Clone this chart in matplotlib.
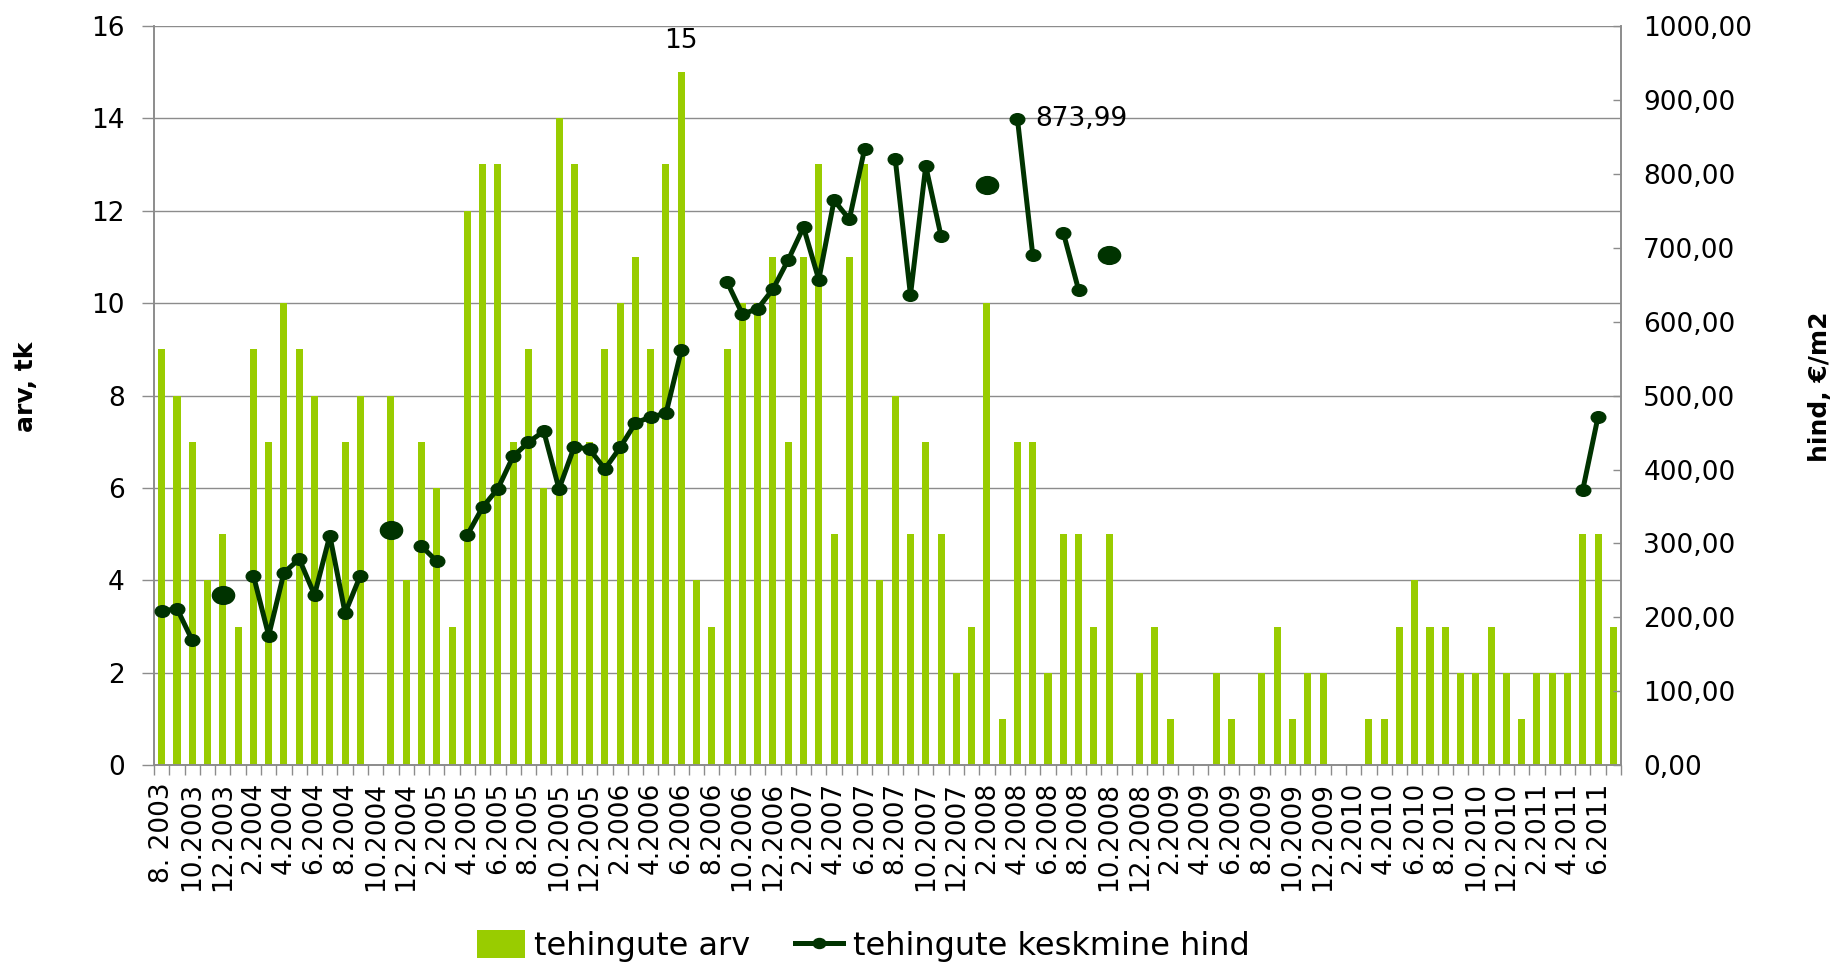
"""Tehingute arv ja keskmine hind kuude kaupa, 8.2003-7.2011."""
import numpy as np
import matplotlib
matplotlib.use("Agg")
import matplotlib.pyplot as plt
from matplotlib.lines import Line2D
from matplotlib.patches import Patch
from matplotlib.path import Path
from matplotlib.transforms import Affine2D

nan = np.nan

# first month and number of months on the axis
start_month, start_year = 8, 2003
n_months = 96

deal_count = [
    9, 8, 7, 4, 5, 3, 9, 7, 10, 9, 8, 5, 7, 8, 0, 8,
    4, 7, 6, 3, 12, 13, 13, 7, 9, 6, 14, 13, 7, 9, 10, 11,
    9, 13, 15, 4, 3, 9, 10, 10, 11, 7, 11, 13, 5, 11, 13, 4,
    8, 5, 7, 5, 2, 3, 10, 1, 7, 7, 2, 5, 5, 3, 5, 0,
    2, 3, 1, 0, 0, 2, 1, 0, 2, 3, 1, 2, 2, 0, 0, 1,
    1, 3, 4, 3, 3, 2, 2, 3, 2, 1, 2, 2, 2, 5, 5, 3,
]

avg_price = [
    208.5, 212.0, 169.0, nan, 230.5, nan, 256.7, 175.6,
    260.7, 279.0, 230.5, 310.7, 206.0, 256.7, nan, 318.0,
    nan, 296.3, 276.0, nan, 311.6, 349.0, 374.2, 417.9,
    436.8, 451.7, 373.7, 431.0, 427.2, 400.7, 429.8, 462.8,
    471.2, 475.7, 561.0, nan, nan, 653.4, 610.0, 617.2,
    643.7, 683.3, 727.4, 656.6, 763.7, 738.1, 833.3, nan,
    820.2, 635.7, 810.1, 715.5, nan, nan, 783.9, nan,
    873.99, 690.5, nan, 720.2, 642.9, nan, 690.5, nan,
    nan, nan, nan, nan, nan, nan, nan, nan,
    nan, nan, nan, nan, nan, nan, nan, nan,
    nan, nan, nan, nan, nan, nan, nan, nan,
    nan, nan, nan, nan, nan, 372.6, 471.6, nan,
]

month_labels = []
for k in range(n_months):
    m = (start_month - 1 + k) % 12 + 1
    y = start_year + (start_month - 1 + k) // 12
    month_labels.append(f"{m}. {y}" if k == 0 else f"{m}.{y}")

BAR_GREEN = "#99cc00"
LINE_GREEN = "#003300"
GRID_GREY = "#8c8c8c"

plt.rcParams["font.family"] = ["DejaVu Sans"]

# Excel-style markers are slightly wide ellipses
ellipse = Path.unit_circle().transformed(Affine2D().scale(1.25, 1.0))

fig = plt.figure(figsize=(18.41, 9.63), dpi=100)
ax = fig.add_axes([0.0837, 0.2051, 0.7968, 0.7684])
ax2 = ax.twinx()

x = np.arange(n_months)
counts = np.array(deal_count, dtype=float)
prices = np.array(avg_price, dtype=float)

ax.bar(x, counts, width=0.46, color=BAR_GREEN, zorder=2)
ax.set_xlim(-0.5, n_months - 0.5)
ax.set_ylim(0, 16)
ax.set_yticks(np.arange(0, 17, 2))
ax.grid(axis="y", color=GRID_GREY, lw=1.0, zorder=0)
ax.set_axisbelow(True)

ax2.set_ylim(0, 1000)
ax2.set_yticks(np.arange(0, 1001, 100))
ax2.set_yticklabels([f"{v:.2f}".replace(".", ",") for v in np.arange(0, 1001, 100)])

ax2.plot(x, prices, color=LINE_GREEN, lw=3.6, marker=ellipse, ms=10.5,
         mfc=LINE_GREEN, mec=LINE_GREEN, solid_joinstyle="round", zorder=3)

# single months with a price but no neighbours get a bigger dot
valid = ~np.isnan(prices)
left_ok = np.r_[False, valid[:-1]]
right_ok = np.r_[valid[1:], False]
lonely = valid & ~left_ok & ~right_ok
ax2.plot(x[lonely], prices[lonely], ls="none", marker=ellipse, ms=16,
         color=LINE_GREEN, zorder=3)

# x axis: labels every second month, tick marks between months
ax.set_xticks(x[::2])
ax.set_xticklabels(month_labels[::2], rotation=90, fontsize=19)
ax.set_xticks(np.arange(-0.5, n_months, 1), minor=True)
ax.tick_params(axis="x", which="major", length=0, pad=12)
ax.tick_params(axis="x", which="minor", length=7, width=1, color=GRID_GREY, direction="out")
ax.tick_params(axis="y", length=9, width=1, color=GRID_GREY, labelsize=19, pad=12)
ax2.tick_params(axis="y", length=6, width=1, color=GRID_GREY, direction="in", labelsize=19, pad=16)

for a in (ax, ax2):
    a.spines["top"].set_visible(False)
    for side in ("left", "right", "bottom"):
        a.spines[side].set_color(GRID_GREY)
        a.spines[side].set_linewidth(1.2)

# value labels for the highest bar and the highest price
i_max = int(np.argmax(counts))
ax.annotate(f"{deal_count[i_max]}", (x[i_max], counts[i_max]), xytext=(0, 13),
            textcoords="offset points", ha="center", va="bottom", fontsize=19)
j_max = int(np.nanargmax(prices))
ax2.annotate(f"{avg_price[j_max]:.2f}".replace(".", ","), (x[j_max], prices[j_max]),
             xytext=(13, 0), textcoords="offset points", ha="left", va="center", fontsize=19)

fig.text(26 / 1841, 1 - 387 / 963, "arv, tk", rotation=90, ha="center", va="center",
         fontsize=18, fontweight="bold")
fig.text(1820 / 1841, 1 - 387 / 963, "hind, €/m2", rotation=90, ha="center", va="center",
         fontsize=18, fontweight="bold")

handles = [
    Patch(facecolor=BAR_GREEN, edgecolor="none"),
    Line2D([], [], color=LINE_GREEN, lw=3.6, marker=ellipse, ms=9),
]
fig.legend(handles, ["tehingute arv", "tehingute keskmine hind"], loc="center",
           bbox_to_anchor=(863 / 1841, 1 - 946 / 963), ncol=2, frameon=False,
           fontsize=23, handlelength=1.5, handleheight=1.0, handletextpad=0.3,
           columnspacing=1.4)

fig.savefig("out.png", dpi=100)
